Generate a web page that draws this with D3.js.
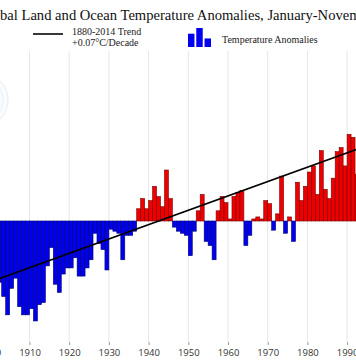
<!DOCTYPE html>
<html>
<head>
<meta charset="utf-8">
<script src="https://cdn.jsdelivr.net/npm/d3@7"></script>
<style>
  html, body { margin: 0; padding: 0; background: #fff; overflow: hidden; }
  svg { display: block; }
</style>
</head>
<body>
<svg id="chart" width="356" height="364"></svg>
<script>
// ---- data ----
const years = d3.range(1902, 1993);
const anomalies = [
  -0.30, -0.37, -0.46, -0.33, -0.28, -0.42, -0.46, -0.46, -0.43, -0.49,
  -0.41, -0.40, -0.22, -0.13, -0.31, -0.35, -0.26, -0.23, -0.23, -0.18,
  -0.27, -0.27, -0.23, -0.19, -0.06, -0.11, -0.14, -0.24, -0.04, -0.05,
  -0.06, -0.19, -0.07, -0.07, -0.05, 0.06, 0.11, 0.06, 0.10, 0.17,
  0.12, 0.07, 0.25, 0.11, -0.03, -0.05, -0.06, -0.07, -0.17, -0.05,
  0.05, 0.13, -0.10, -0.12, -0.19, 0.05, 0.12, 0.09, 0.01, 0.12,
  0.14, 0.15, -0.12, -0.07, 0.01, 0.02, 0.01, 0.10, 0.085, -0.045,
  0.035, 0.22, -0.06, 0.02, -0.10, 0.19, 0.10, 0.17, 0.24, 0.27,
  0.13, 0.345, 0.155, 0.11, 0.21, 0.34, 0.36, 0.27, 0.425, 0.41,
  0.23
];
const tickYears = d3.range(1900, 2001, 10);
const trendYears = [1880, 2015];
const trendValues = [-0.44, 0.51];
const titleText = "Global Land and Ocean Temperature Anomalies, January-November";
const trendLabel = ["1880-2014 Trend", "+0.07\u00B0C/Decade"];
const barsLabel = "Temperature Anomalies";
const legendIconValues = [0.7, 1, 0.45];

// ---- scales ----
const svg = d3.select("#chart");
const x = d3.scaleLinear().domain([1910, 1990]).range([29.5, 347.1]);
const y = d3.scaleLinear().domain([-0.5, 0.5]).range([323, 119]);
const gridTop = 51, gridBottom = 342;

// faint logo remnant at left edge
const logo = svg.append("g").attr("opacity", 0.25);
logo.append("circle").attr("cx", -19).attr("cy", 100).attr("r", 27)
  .attr("fill", "#f2f6fa").attr("stroke", "#9fb3c8").attr("stroke-width", 1);
logo.append("circle").attr("cx", -19).attr("cy", 100).attr("r", 22)
  .attr("fill", "none").attr("stroke", "#b8c8da").attr("stroke-width", 2.5)
  .attr("stroke-dasharray", "1.5,1");

// gridlines
svg.append("g").selectAll("line").data(tickYears).join("line")
  .attr("x1", d => x(d)).attr("x2", d => x(d))
  .attr("y1", gridTop).attr("y2", gridBottom)
  .attr("stroke", "#e6e6e6").attr("stroke-width", 1);

// x axis (ticks + labels)
const xAxis = d3.axisBottom(x).tickValues(tickYears).tickFormat(d3.format("d"))
  .tickSize(3).tickPadding(4);
const ax = svg.append("g").attr("transform", `translate(0,${gridBottom})`).call(xAxis);
ax.select(".domain").remove();
ax.selectAll(".tick line").attr("stroke", "#999");
ax.selectAll(".tick text").attr("fill", "#333")
  .style("font-family", "'Open Sans', 'Liberation Sans', sans-serif")
  .style("font-size", "9.5px");

// bars
const data = years.map((yr, i) => ({ yr, v: anomalies[i] }));
svg.append("g").selectAll("rect").data(data).join("rect")
  .attr("x", d => x(d.yr))
  .attr("width", d => x(d.yr + 1) - x(d.yr))
  .attr("y", d => d.v >= 0 ? y(d.v) : y(0))
  .attr("height", d => Math.abs(y(d.v) - y(0)))
  .attr("fill", d => d.v >= 0 ? "#ee0000" : "#0000ee")
  .attr("stroke", d => d.v >= 0 ? "#7a0000" : "#00006e")
  .attr("stroke-width", 0.6);

// trend line
svg.append("line")
  .attr("x1", x(trendYears[0])).attr("y1", y(trendValues[0]))
  .attr("x2", x(trendYears[1])).attr("y2", y(trendValues[1]))
  .attr("stroke", "#000").attr("stroke-width", 1.6);

// title
const serif = "'Liberation Serif', 'Times New Roman', serif";
const titleSize = "14.6px";
const tmp = svg.append("text").style("font-family", serif).style("font-size", titleSize).text("Glo");
const preW = tmp.node().getComputedTextLength();
tmp.remove();
svg.append("text")
  .attr("x", -preW).attr("y", 20)
  .style("font-family", serif).style("font-size", titleSize).attr("fill", "#111")
  .text(titleText);

// legend: trend
svg.append("line").attr("x1", 33).attr("x2", 63).attr("y1", 34).attr("y2", 34)
  .attr("stroke", "#222").attr("stroke-width", 1.8);
svg.append("text").attr("x", 72).attr("y", 35)
  .style("font-family", serif).style("font-size", "10px").attr("fill", "#222")
  .text(trendLabel[0]);
svg.append("text").attr("x", 72).attr("y", 46)
  .style("font-family", serif).style("font-size", "10px").attr("fill", "#222")
  .text(trendLabel[1]);

// legend: bars icon
const iconX = d3.scaleBand().domain(d3.range(legendIconValues.length)).range([188, 211]).paddingInner(0.22);
const iconY = d3.scaleLinear().domain([0, 1]).range([47, 28]);
svg.append("g").selectAll("rect").data(legendIconValues).join("rect")
  .attr("x", (d, i) => iconX(i)).attr("width", iconX.bandwidth())
  .attr("y", d => iconY(d)).attr("height", d => iconY(0) - iconY(d))
  .attr("fill", "#0000ee");
svg.append("text").attr("x", 222).attr("y", 43)
  .style("font-family", serif).style("font-size", "10px").attr("fill", "#222")
  .text(barsLabel);
</script>
</body>
</html>
